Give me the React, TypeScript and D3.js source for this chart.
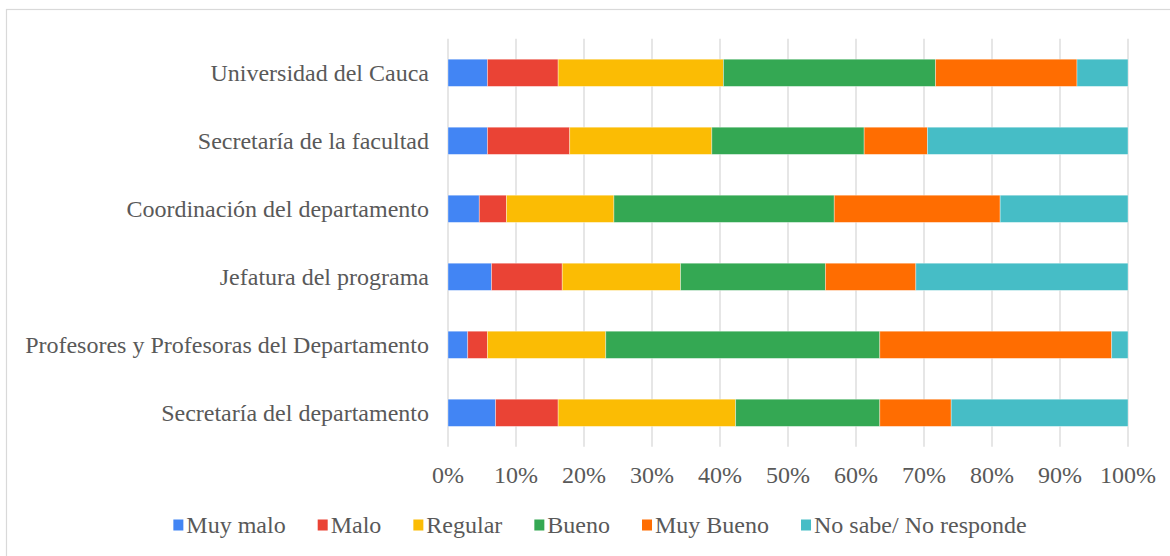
import React, { useEffect, useRef } from "react";
import * as d3 from "d3";

const categories = [
  "Universidad del Cauca",
  "Secretaría de la facultad",
  "Coordinación del departamento",
  "Jefatura del programa",
  "Profesores y Profesoras del Departamento",
  "Secretaría del departamento",
];

const seriesNames = ["Muy malo", "Malo", "Regular", "Bueno", "Muy Bueno", "No sabe/ No responde"];
const seriesColors = ["#4285F4", "#EA4335", "#FBBC04", "#34A853", "#FF6D01", "#46BDC6"];

const muyMalo = [5.8, 5.8, 4.6, 6.4, 2.9, 7.0];
const malo = [10.4, 12.1, 4.0, 10.4, 2.9, 9.2];
const regular = [24.3, 20.9, 15.8, 17.4, 17.4, 26.1];
const bueno = [31.2, 22.4, 32.4, 21.3, 40.3, 21.2];
const muyBueno = [20.8, 9.3, 24.4, 13.3, 34.1, 10.5];
const noSabe = [7.5, 29.5, 18.8, 31.2, 2.4, 26.0];

const tickValues = [0, 10, 20, 30, 40, 50, 60, 70, 80, 90, 100];

const W = 1170;
const H = 556;
const FONT = "'Liberation Serif', 'Times New Roman', serif";
const TEXT = "#595959";
const FS = 24;

export default function App() {
  const ref = useRef<SVGSVGElement | null>(null);

  useEffect(() => {
    const svg = d3.select(ref.current);
    svg.selectAll("*").remove();

    const left = 448, right = 1128, top = 38.8, bottom = 446.8;
    const x = d3.scaleLinear().domain([0, 100]).range([left, right]);
    const y = d3.scaleBand<string>().domain(categories).range([top, bottom]).paddingInner(0.6).paddingOuter(0.3);

    // frame
    svg.append("rect")
      .attr("x", 6.5).attr("y", 9.5).attr("width", 1180).attr("height", 560)
      .attr("fill", "#fff").attr("stroke", "#d9d9d9").attr("stroke-width", 1.2);

    // gridlines
    svg.append("g").selectAll("line").data(tickValues).join("line")
      .attr("x1", d => x(d)).attr("x2", d => x(d))
      .attr("y1", top).attr("y2", bottom)
      .attr("stroke", "#d9d9d9").attr("stroke-width", 1.3);

    // stacked data
    const rows = categories.map((c, i) => ({
      cat: c,
      v: [muyMalo[i], malo[i], regular[i], bueno[i], muyBueno[i], noSabe[i]],
    }));
    const stack = d3.stack<any, number>()
      .keys(d3.range(seriesNames.length) as any)
      .value((d: any, k: any) => {
        const total = d3.sum(d.v as number[]);
        return (d.v[k] / total) * 100;
      });
    const stacked = stack(rows);

    const g = svg.append("g");
    stacked.forEach((layer, si) => {
      g.append("g").selectAll("rect").data(layer).join("rect")
        .attr("x", d => x(d[0]))
        .attr("width", d => x(d[1]) - x(d[0]))
        .attr("y", d => y((d.data as any).cat)!)
        .attr("height", y.bandwidth())
        .attr("fill", seriesColors[si])
        .attr("stroke", "rgba(255,255,255,0.45)")
        .attr("stroke-width", 0.8);
    });

    // category labels
    svg.append("g").selectAll("text").data(categories).join("text")
      .attr("x", left - 19)
      .attr("y", d => y(d)! + y.bandwidth() / 2)
      .attr("dy", "0.35em")
      .attr("text-anchor", "end")
      .attr("font-family", FONT).attr("font-size", FS).attr("fill", TEXT)
      .text(d => d);

    // tick labels
    svg.append("g").selectAll("text").data(tickValues).join("text")
      .attr("x", d => x(d))
      .attr("y", 483)
      .attr("text-anchor", "middle")
      .attr("font-family", FONT).attr("font-size", FS).attr("fill", TEXT)
      .text(d => `${d}%`);

    // legend
    const lg = svg.append("g");
    const bw = 10, bh = 11, gap = 3, spacing = 32;
    let cx = 0;
    seriesNames.forEach((name, i) => {
      const item = lg.append("g").attr("transform", `translate(${cx},0)`);
      item.append("rect").attr("x", 0).attr("y", -bh / 2).attr("width", bw).attr("height", bh)
        .attr("fill", seriesColors[i]);
      const t = item.append("text").attr("x", bw + gap).attr("y", 0).attr("dy", "0.35em")
        .attr("font-family", FONT).attr("font-size", FS).attr("fill", TEXT).text(name);
      const tw = (t.node() as SVGTextElement).getComputedTextLength();
      cx += bw + gap + tw + spacing;
    });
    const totalW = cx - spacing;
    lg.attr("transform", `translate(${600 - totalW / 2},525)`);
  }, []);

  return (
    <svg ref={ref} width={W} height={H} style={{ display: "block", position: "absolute", left: 0, top: 0 }} />
  );
}
